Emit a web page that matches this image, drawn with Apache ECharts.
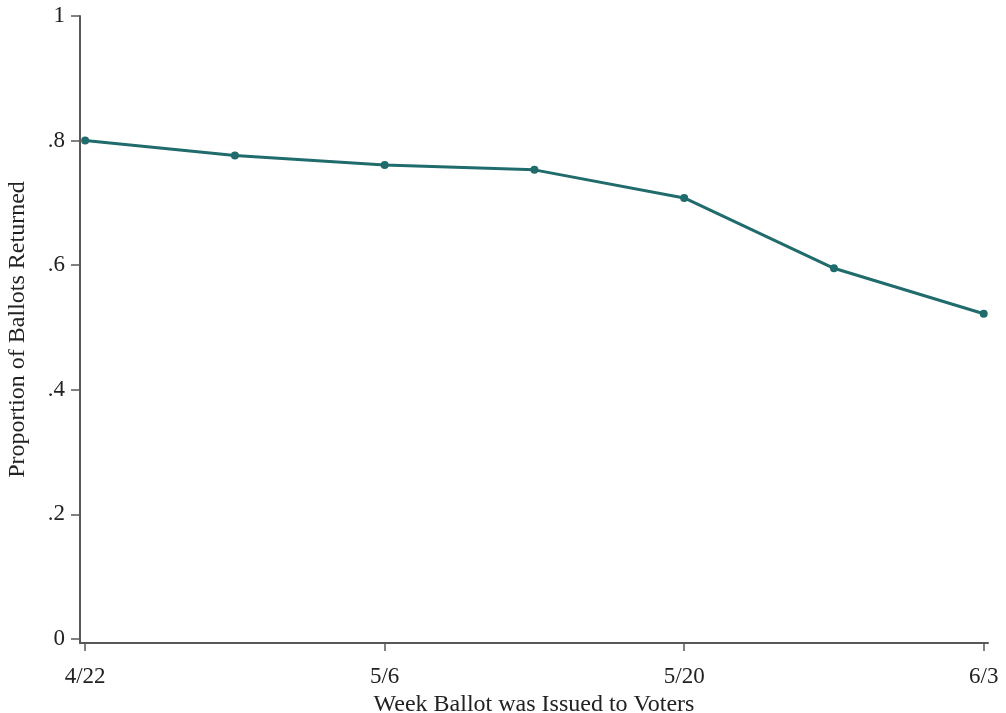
<!DOCTYPE html>
<html>
<head>
<meta charset="utf-8">
<script src="https://cdn.jsdelivr.net/npm/echarts@6/dist/echarts.min.js"></script>
<style>
  html, body { margin: 0; padding: 0; background: #fff; }
  #chart { width: 1006px; height: 713px; }
</style>
</head>
<body>
<div id="chart"></div>
<script>
// Week each ballot batch was issued, as days after 4/22
const weekLabels = ['4/22', '4/29', '5/6', '5/13', '5/20', '5/27', '6/3'];
const weekDays = [0, 7, 14, 21, 28, 35, 42];
// Share of ballots returned for each issue week
const proportionReturned = [0.800, 0.776, 0.761, 0.753, 0.708, 0.595, 0.522];

// Axis ticks
const xTickDays = [0, 14, 28, 42];
const xTickLabels = ['4/22', '5/6', '5/20', '6/3'];
const yTickValues = [0, 0.2, 0.4, 0.6, 0.8, 1];
const yTickLabels = ['0', '.2', '.4', '.6', '.8', '1'];

const FONT = '"Liberation Serif", "DejaVu Serif", serif';
const AXIS_COLOR = '#585858';
const TEXT_COLOR = '#222222';
const LINE_COLOR = '#206b6c';

const chart = echarts.init(document.getElementById('chart'), null, { renderer: 'canvas' });

chart.setOption({
  animation: false,
  backgroundColor: '#ffffff',
  grid: {
    left: 80, right: 18, top: 16, bottom: 70,
    containLabel: false,
    outerBoundsMode: 'none'
  },
  xAxis: {
    type: 'value',
    min: -0.24,
    max: 42.2,
    splitLine: { show: false },
    axisLine: { show: true, onZero: false, lineStyle: { color: AXIS_COLOR, width: 2 } },
    axisTick: { show: true, length: 8, lineStyle: { color: AXIS_COLOR, width: 1.5 }, customValues: xTickDays },
    axisLabel: {
      customValues: xTickDays,
      formatter: v => xTickLabels[xTickDays.indexOf(Math.round(v))] || '',
      color: TEXT_COLOR, fontFamily: FONT, fontSize: 23, margin: 22
    },
    name: 'Week Ballot was Issued to Voters',
    nameLocation: 'middle',
    nameGap: 42,
    nameTextStyle: { color: TEXT_COLOR, fontFamily: FONT, fontSize: 24 }
  },
  yAxis: {
    type: 'value',
    min: -0.0065,
    max: 1,
    splitLine: { show: false },
    axisLine: { show: true, onZero: false, lineStyle: { color: AXIS_COLOR, width: 2 } },
    axisTick: { show: true, length: 9, lineStyle: { color: AXIS_COLOR, width: 1.5 }, customValues: yTickValues },
    axisLabel: {
      customValues: yTickValues,
      formatter: v => {
        const i = yTickValues.findIndex(t => Math.abs(t - v) < 1e-6);
        return i >= 0 ? yTickLabels[i] : '';
      },
      color: TEXT_COLOR, fontFamily: FONT, fontSize: 23, margin: 15,
      padding: [6, 0, 0, 0]
    },
    name: 'Proportion of Ballots Returned',
    nameLocation: 'middle',
    nameGap: 50,
    nameTextStyle: { color: TEXT_COLOR, fontFamily: FONT, fontSize: 24 }
  },
  series: [{
    type: 'line',
    data: weekDays.map((d, i) => [d, proportionReturned[i]]),
    symbol: 'circle',
    symbolSize: 8,
    lineStyle: { color: LINE_COLOR, width: 3 },
    itemStyle: { color: LINE_COLOR },
    silent: true
  }]
});
</script>
</body>
</html>
